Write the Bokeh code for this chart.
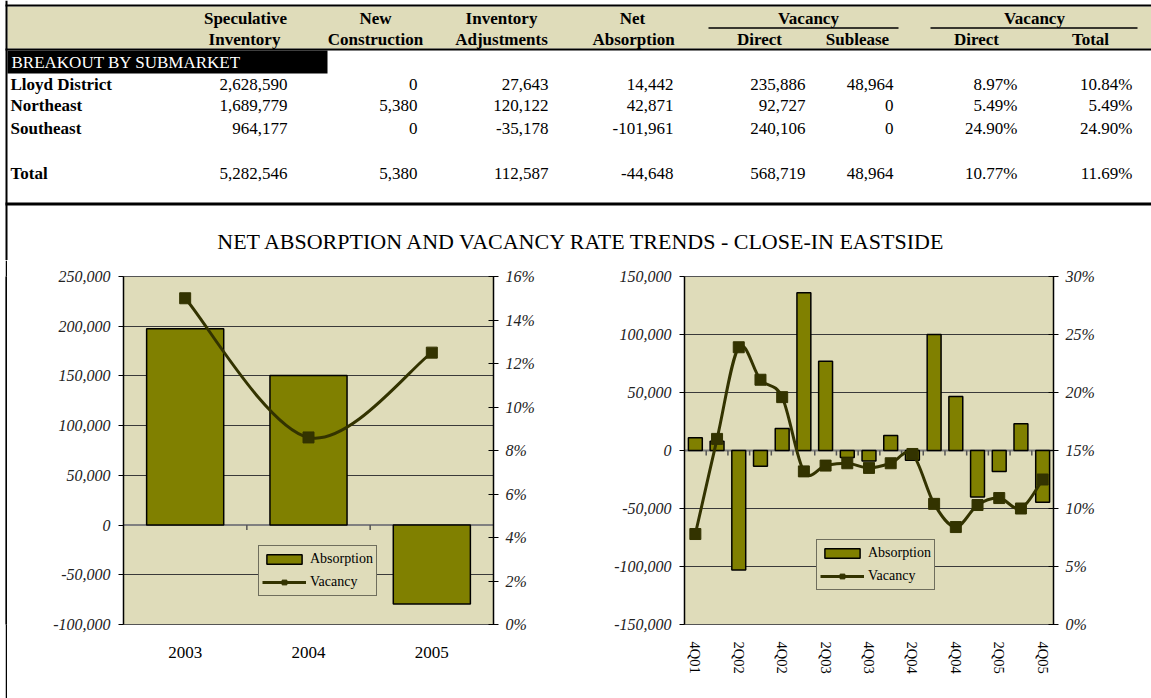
import math
from bokeh.plotting import figure
from bokeh.models import (Range1d, FactorRange, LinearAxis, ColumnDataSource, NumeralTickFormatter,
                          PrintfTickFormatter, SingleIntervalTicker, Legend, LegendItem, Span,
                          CustomJSTickFormatter, Spacer)
from bokeh.layouts import row, column
from bokeh.core.properties import value
from bokeh.embed import file_html
from bokeh.resources import INLINE

# ---------------- data ----------------
header_line1 = ["Speculative", "New", "Inventory", "Net"]
header_line2 = ["Inventory", "Construction", "Adjustments", "Absorption", "Direct", "Sublease", "Direct", "Total"]
group_headers = ["Vacancy", "Vacancy"]
section_label = "BREAKOUT BY SUBMARKET"
submarkets = ["Lloyd District", "Northeast", "Southeast", "Total"]
spec_inventory = [2628590, 1689779, 964177, 5282546]
new_construction = [0, 5380, 0, 5380]
inv_adjustments = [27643, 120122, -35178, 112587]
net_absorption = [14442, 42871, -101961, -44648]
vacancy_direct = [235886, 92727, 240106, 568719]
vacancy_sublease = [48964, 0, 0, 48964]
vac_rate_direct = [8.97, 5.49, 24.90, 10.77]
vac_rate_total = [10.84, 5.49, 24.90, 11.69]

chart_title = "NET ABSORPTION AND VACANCY RATE TRENDS - CLOSE-IN EASTSIDE"
years = ["2003", "2004", "2005"]
annual_absorption = [197500, 150500, -79500]
annual_vacancy = [15.0, 8.6, 12.5]
quarters = ["4Q01", "1Q02", "2Q02", "3Q02", "4Q02", "1Q03", "2Q03", "3Q03", "4Q03",
            "1Q04", "2Q04", "3Q04", "4Q04", "1Q05", "2Q05", "3Q05", "4Q05"]
quarterly_absorption = [11000, 8000, -103000, -13500, 19000, 136000, 77000, -6000, -9000,
                        13000, -8500, 100000, 46500, -40000, -18000, 23000, -44648]
quarterly_vacancy = [7.8, 16.0, 23.9, 21.1, 19.6, 13.2, 13.7, 13.9, 13.5,
                     13.9, 14.7, 10.4, 8.4, 10.3, 10.9, 10.0, 12.5]
legend_labels = ["Absorption", "Vacancy"]

# ---------------- style ----------------
SERIF = "Liberation Serif"
BEIGE = "#DFDCBA"
OLIVE = "#808000"
DARK = "#333300"

# ---------------- table (page-pixel canvas) ----------------
t = figure(width=1151, height=260, x_range=Range1d(0, 1151), y_range=Range1d(260, 0),
           output_backend="svg", toolbar_location=None, min_border=0,
           outline_line_color=None, background_fill_color="white", border_fill_color="white")
t.axis.visible = False
t.grid.visible = False


def txt(fig, xs, ys, texts, align, size="17px", style="normal", color="black"):
    fig.text(x=xs, y=ys, text=texts, text_align=align, text_baseline="middle",
             text_font=value(SERIF), text_font_size=size, text_font_style=style, text_color=color)


# header band and rules
t.quad(left=[7], right=[1151], top=[6], bottom=[48], fill_color=BEIGE, line_color=None)
t.quad(left=[5, 5, 5, 5], right=[1151, 1151, 1151, 7], top=[4, 48, 202, 0], bottom=[6, 50, 205, 260],
       fill_color="black", line_color=None)
t.segment(x0=[708, 930], y0=[27.5, 27.5], x1=[898, 1137], y1=[27.5, 27.5], line_color="black", line_width=1.5)
t.quad(left=[7], right=[327], top=[50], bottom=[73], fill_color="black", line_color=None)
txt(t, [11], [62], [section_label], "left", color="white")

# headers
txt(t, [245, 375, 501, 632], [18] * 4, header_line1, "center", style="bold")
txt(t, [808, 1034], [18, 18], group_headers, "center", style="bold")
txt(t, [244, 375, 501, 633, 759, 857, 976, 1090], [39] * 8, header_line2, "center", style="bold")

# rows
row_mid = [84, 105, 128, 173]
txt(t, [10] * 4, row_mid, submarkets, "left", style="bold")
col_right = [287, 417, 548, 673, 805, 893, 1017, 1132]
num_cols = [spec_inventory, new_construction, inv_adjustments, net_absorption, vacancy_direct, vacancy_sublease]
for cx, col in zip(col_right[:6], num_cols):
    txt(t, [cx] * 4, row_mid, [f"{v:,}" for v in col], "right")
for cx, col in zip(col_right[6:], [vac_rate_direct, vac_rate_total]):
    txt(t, [cx] * 4, row_mid, [f"{v:.2f}%" for v in col], "right")

# title
txt(t, [582], [241], [chart_title], "center", size="22px")

# left border strip for the chart row
gap = Spacer(width=5, height=438, margin=(0, 0, 0, 0))
b = figure(width=2, height=438, x_range=Range1d(0, 1), y_range=Range1d(0, 1),
           output_backend="svg", toolbar_location=None, min_border=0,
           outline_line_color=None, background_fill_color="black", border_fill_color="black")
b.axis.visible = False
b.grid.visible = False
b.quad(left=[0], right=[1], bottom=[0], top=[1], fill_color="black", line_color=None)


# ---------------- charts ----------------
def smooth(n, ys):
    xs = [i + 0.5 for i in range(n)]
    d = dict(x0=[], y0=[], x1=[], y1=[], cx0=[], cy0=[], cx1=[], cy1=[])
    for i in range(n - 1):
        a = i - 1 if i > 0 else i
        bb = i + 2 if i + 2 < n else i + 1
        d["x0"].append(xs[i]); d["y0"].append(ys[i])
        d["x1"].append(xs[i + 1]); d["y1"].append(ys[i + 1])
        d["cx0"].append(xs[i] + (xs[i + 1] - xs[a]) / 6)
        d["cy0"].append(ys[i] + (ys[i + 1] - ys[a]) / 6)
        d["cx1"].append(xs[i + 1] - (xs[bb] - xs[i]) / 6)
        d["cy1"].append(ys[i + 1] - (ys[bb] - ys[i]) / 6)
    return d


def chart(cats, absorption, vacancy, width, borders, yr, ystep, vmax, vstep, bar_w,
          legend_loc, vertical_labels):
    bl, br, bt, bb = borders
    p = figure(width=width, height=438, x_range=FactorRange(*cats), y_range=Range1d(*yr),
               output_backend="svg", toolbar_location=None,
               min_border_left=bl, min_border_right=br, min_border_top=bt, min_border_bottom=bb,
               background_fill_color=BEIGE, border_fill_color="white",
               outline_line_color="#555555", outline_line_width=1)
    p.extra_y_ranges = {"vac": Range1d(0, vmax)}

    yt = SingleIntervalTicker(interval=ystep, num_minor_ticks=0)
    ya = p.yaxis[0]
    ya.ticker = yt
    ya.formatter = NumeralTickFormatter(format="0,0")
    p.ygrid.ticker = yt
    p.ygrid.grid_line_color = "#3a3a3a"
    p.ygrid.grid_line_width = 1
    p.xgrid.visible = False

    ra = LinearAxis(y_range_name="vac", ticker=SingleIntervalTicker(interval=vstep, num_minor_ticks=0),
                    formatter=PrintfTickFormatter(format="%d%%"))
    p.add_layout(ra, "right")
    for ax, inn in ((ya, 0), (ra, 5)):
        ax.axis_line_color = "black"
        ax.axis_line_width = 1.5
        ax.major_tick_line_color = "black"
        ax.major_tick_in = inn
        ax.major_tick_out = 5
        ax.minor_tick_line_color = None
        ax.major_label_text_font = SERIF
        ax.major_label_text_font_style = "italic"
        ax.major_label_text_font_size = "16px"
        ax.major_label_text_color = "#222222"
    ya.major_label_standoff = 8
    ra.major_label_standoff = 7

    xa = p.xaxis[0]
    xa.axis_line_color = None
    xa.major_tick_line_color = None
    xa.major_label_text_font = SERIF
    xa.major_label_text_color = "black"
    if vertical_labels:
        xa.major_label_orientation = "vertical"
        xa.major_label_text_font_size = "14.5px"
        xa.major_label_standoff = 11
        xa.formatter = CustomJSTickFormatter(code="return (index % 2 == 0) ? tick : '';")
    else:
        xa.major_label_text_font_size = "17px"
        xa.major_label_standoff = 16

    p.add_layout(Span(location=0, dimension="width", line_color="#808080", line_width=2, level="underlay"))
    p.ray(x=list(range(1, len(cats))), y=[0] * (len(cats) - 1), length=5, length_units="screen",
          angle=-math.pi / 2, line_color="#555555", line_width=1.5)

    src = ColumnDataSource(dict(x=cats, top=absorption, v=vacancy))
    bars = p.vbar(x="x", top="top", width=bar_w, source=src, fill_color=OLIVE,
                  line_color="black", line_width=1.5)
    bz = p.bezier(source=ColumnDataSource(smooth(len(cats), vacancy)), x0="x0", y0="y0", x1="x1", y1="y1",
                  cx0="cx0", cy0="cy0", cx1="cx1", cy1="cy1", line_color=DARK, line_width=3,
                  y_range_name="vac")
    sq = p.scatter(x="x", y="v", source=src, marker="square", size=11, fill_color=DARK,
                   line_color=DARK, y_range_name="vac")

    lg = Legend(items=[LegendItem(label=legend_labels[0], renderers=[bars]),
                       LegendItem(label=legend_labels[1], renderers=[bz, sq])],
                location=legend_loc, orientation="vertical")
    lg.border_line_color = "black"
    lg.border_line_width = 1
    lg.background_fill_color = BEIGE
    lg.background_fill_alpha = 1
    lg.label_text_font = SERIF
    lg.label_text_font_size = "14px"
    lg.label_text_color = "black"
    lg.glyph_width = 44
    lg.glyph_height = 12
    lg.label_height = 20
    lg.label_standoff = 4
    lg.spacing = 3
    lg.padding = 3
    lg.margin = 0
    p.add_layout(lg)
    return p


p1 = chart(years, annual_absorption, annual_vacancy, 573, (116, 87, 16, 72),
           (-100000, 250000), 50000, 16, 2, 0.625, (135, 28), False)
p2 = chart(quarters, quarterly_absorption, quarterly_vacancy, 571, (104, 98, 16, 74),
           (-150000, 150000), 50000, 30, 5, 0.64, (132, 34), True)

layout = column(t, row(gap, b, p1, p2))

open("out.html", "w").write(file_html(layout, INLINE))
